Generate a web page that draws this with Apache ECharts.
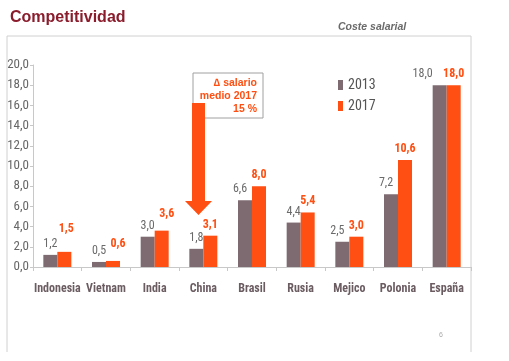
<!DOCTYPE html>
<html>
<head>
<meta charset="utf-8">
<script src="https://cdn.jsdelivr.net/npm/echarts@6/dist/echarts.min.js"></script>
<style>
html,body{margin:0;padding:0;background:#fff;}
#c{width:509px;height:361px;}
</style>
</head>
<body>
<div id="c"></div>
<script>
const categories = ['Indonesia','Vietnam','India','China','Brasil','Rusia','Mejico','Polonia','España'];
const values2013 = [1.2, 0.5, 3.0, 1.8, 6.6, 4.4, 2.5, 7.2, 18.0];
const values2017 = [1.5, 0.6, 3.6, 3.1, 8.0, 5.4, 3.0, 10.6, 18.0];
const seriesNames = ['2013', '2017'];

const NARROW = '"Roboto Condensed","Open Sans Condensed","DejaVu Sans Condensed",sans-serif';
const ARIAL = 'Arial,"Liberation Sans",sans-serif';
const fmt = v => v.toFixed(1).replace('.', ',');
// label nudges as placed in the original slide (style only)
const labelShift2013 = {4: [-5, 0], 6: [-5, 0], 7: [-5, 0], 8: [-17, 0]};
const labelShift2017 = {0: [2, -12], 1: [5, -6], 2: [5, -6]};
const withShift = (arr, shifts) => arr.map((v, i) => shifts[i] ? {value: v, label: {offset: shifts[i]}} : v);

const chart = echarts.init(document.getElementById('c'), null, {renderer: 'canvas'});
chart.setOption({
  animation: false,
  backgroundColor: '#fff',
  title: [
    {text: 'Competitividad', left: 10, top: 10, padding: 0,
     textStyle: {fontFamily: ARIAL, fontSize: 16, fontWeight: 'bold', color: '#8b1c2c'}},
    {text: 'Coste salarial', left: 338, top: 22, padding: 0,
     textStyle: {fontFamily: ARIAL, fontSize: 10.5, fontWeight: 'bold', fontStyle: 'italic', color: '#6a6a6a'}},
    {text: '6', left: 439, top: 332, padding: 0,
     textStyle: {fontFamily: ARIAL, fontSize: 7, fontWeight: 'normal', color: '#aaa'}}
  ],
  legend: {
    orient: 'vertical', left: 338, top: 78, itemGap: 7, padding: 0,
    icon: 'rect', itemWidth: 5, itemHeight: 10,
    data: seriesNames,
    textStyle: {fontFamily: NARROW, fontSize: 14, color: '#555'}
  },
  grid: {left: 33, right: 38, top: 65, bottom: 94, containLabel: false},
  xAxis: {
    type: 'category', data: categories,
    axisLine: {lineStyle: {color: '#c8c8c8', width: 1}},
    axisTick: {show: true, length: 4, lineStyle: {color: '#c8c8c8'}},
    axisLabel: {margin: 16, fontFamily: NARROW, fontSize: 12, fontWeight: 'bold', color: '#6b5c62', interval: 0}
  },
  yAxis: {
    type: 'value', min: 0, max: 20, interval: 2,
    splitLine: {show: false},
    axisLine: {show: true, lineStyle: {color: '#c8c8c8'}},
    axisTick: {show: true, length: 3, lineStyle: {color: '#c8c8c8'}},
    axisLabel: {margin: 4, fontFamily: NARROW, fontSize: 13, color: '#666', formatter: v => fmt(v)}
  },
  series: [
    {
      name: seriesNames[0], type: 'bar', data: withShift(values2013, labelShift2013),
      barWidth: 14, barGap: '0%',
      itemStyle: {color: '#7e6b71'},
      label: {show: true, position: 'top', distance: 5, fontFamily: NARROW, fontSize: 12, color: '#6a6a6a', formatter: p => fmt(p.value)}
    },
    {
      name: seriesNames[1], type: 'bar', data: withShift(values2017, labelShift2017),
      barWidth: 14, barGap: '0%',
      itemStyle: {color: '#ff4f12'},
      label: {show: true, position: 'top', distance: 5, fontFamily: NARROW, fontSize: 12, fontWeight: 'bold', color: '#ff4f12', formatter: p => fmt(p.value)}
    }
  ],
  graphic: [
    {type: 'polyline', shape: {points: [[7, 352], [7, 36], [471, 36], [471, 352]]},
     style: {stroke: '#d0d0d0', lineWidth: 1, fill: null}, silent: true},
    {type: 'rect', shape: {x: 193, y: 73, width: 70, height: 45},
     style: {fill: '#fff', stroke: '#a0a0a0', lineWidth: 1}, z: 10},
    {type: 'text', x: 257, y: 77, z: 11,
     style: {text: '∆ salario\nmedio 2017\n15 %', align: 'right', verticalAlign: 'top', lineHeight: 13,
             fill: '#ff4f12', font: 'bold 10.5px Arial, "Liberation Sans", sans-serif'}},
    {type: 'polygon', z: 12,
     shape: {points: [[192, 103], [205, 103], [205, 201], [212, 201], [198.5, 215], [185, 201], [192, 201]]},
     style: {fill: '#ff4f12'}}
  ]
});
</script>
</body>
</html>
